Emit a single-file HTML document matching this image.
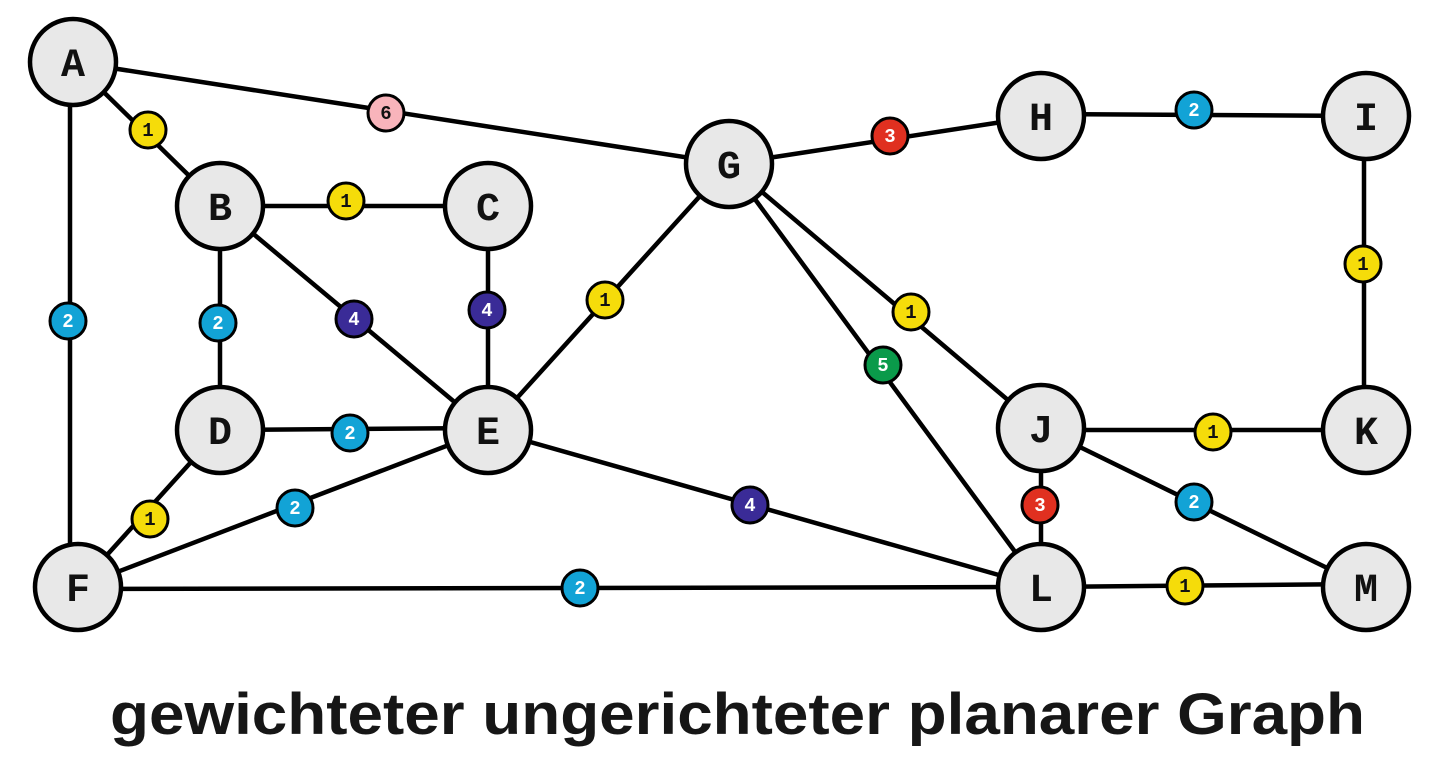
<!DOCTYPE html>
<html><head><meta charset="utf-8"><style>
html,body{margin:0;padding:0;background:#fff;}
svg{display:block;}
</style></head><body>
<svg width="1430" height="762" viewBox="0 0 1430 762" xmlns="http://www.w3.org/2000/svg">
<g stroke="#000" stroke-width="4.5" fill="none">
<line x1="73" y1="62" x2="729" y2="164"/>
<line x1="73" y1="62" x2="220" y2="206"/>
<line x1="70" y1="62" x2="70" y2="587"/>
<line x1="220" y1="206" x2="488" y2="206"/>
<line x1="220" y1="206" x2="220" y2="430"/>
<line x1="220" y1="206" x2="488" y2="430"/>
<line x1="488" y1="206" x2="488" y2="430"/>
<line x1="488" y1="430" x2="729" y2="164"/>
<line x1="220" y1="430" x2="488" y2="428"/>
<line x1="220" y1="430" x2="78" y2="587"/>
<line x1="78" y1="587" x2="488" y2="430"/>
<line x1="488" y1="430" x2="1041" y2="587"/>
<line x1="78" y1="589" x2="1041" y2="587"/>
<line x1="729" y1="164" x2="1041" y2="116"/>
<line x1="729" y1="164" x2="1041" y2="587"/>
<line x1="729" y1="164" x2="1041" y2="428"/>
<line x1="1041" y1="114" x2="1366" y2="116"/>
<line x1="1364" y1="116" x2="1364" y2="430"/>
<line x1="1041" y1="430" x2="1366" y2="430"/>
<line x1="1041" y1="428" x2="1041" y2="587"/>
<line x1="1041" y1="428" x2="1366" y2="587"/>
<line x1="1041" y1="587" x2="1366" y2="584"/>
</g>
<g stroke="#000" stroke-width="4.5" fill="#e8e8e8">
<circle cx="73" cy="62" r="43"/>
<circle cx="220" cy="206" r="43"/>
<circle cx="488" cy="206" r="43"/>
<circle cx="220" cy="430" r="43"/>
<circle cx="488" cy="430" r="43"/>
<circle cx="78" cy="587" r="43"/>
<circle cx="729" cy="164" r="43"/>
<circle cx="1041" cy="116" r="43"/>
<circle cx="1366" cy="116" r="43"/>
<circle cx="1041" cy="428" r="43"/>
<circle cx="1366" cy="430" r="43"/>
<circle cx="1041" cy="587" r="43"/>
<circle cx="1366" cy="587" r="43"/>
</g>
<g font-family="Liberation Mono, monospace" font-weight="bold" font-size="40" text-anchor="middle" fill="#111">
<text x="73" y="76">A</text><text x="220" y="220">B</text><text x="488" y="220">C</text>
<text x="220" y="444">D</text><text x="488" y="444">E</text><text x="78" y="601">F</text>
<text x="729" y="178">G</text><text x="1041" y="130">H</text><text x="1366" y="130">I</text>
<text x="1041" y="442">J</text><text x="1366" y="444">K</text><text x="1041" y="601">L</text>
<text x="1366" y="601">M</text>
</g>
<g stroke="#000" stroke-width="3">
<circle cx="386" cy="113" r="18" fill="#f8b4bb"/>
<circle cx="148" cy="130" r="18" fill="#f5dc0a"/>
<circle cx="68" cy="321" r="18" fill="#12a3d6"/>
<circle cx="346" cy="201" r="18" fill="#f5dc0a"/>
<circle cx="218" cy="323" r="18" fill="#12a3d6"/>
<circle cx="354" cy="319" r="18" fill="#3a2b97"/>
<circle cx="487" cy="310" r="18" fill="#3a2b97"/>
<circle cx="605" cy="300" r="18" fill="#f5dc0a"/>
<circle cx="350" cy="433" r="18" fill="#12a3d6"/>
<circle cx="150" cy="519" r="18" fill="#f5dc0a"/>
<circle cx="295" cy="508" r="18" fill="#12a3d6"/>
<circle cx="750" cy="505" r="18" fill="#3a2b97"/>
<circle cx="580" cy="588" r="18" fill="#12a3d6"/>
<circle cx="890" cy="136" r="18" fill="#e03020"/>
<circle cx="883" cy="365" r="18" fill="#0a9a4a"/>
<circle cx="911" cy="312" r="18" fill="#f5dc0a"/>
<circle cx="1194" cy="110" r="18" fill="#12a3d6"/>
<circle cx="1363" cy="264" r="18" fill="#f5dc0a"/>
<circle cx="1213" cy="432" r="18" fill="#f5dc0a"/>
<circle cx="1040" cy="505" r="18" fill="#e03020"/>
<circle cx="1194" cy="502" r="18" fill="#12a3d6"/>
<circle cx="1185" cy="586" r="18" fill="#f5dc0a"/>
</g>
<g font-family="Liberation Mono, monospace" font-weight="bold" font-size="19" text-anchor="middle">
<text x="386" y="119" fill="#111">6</text>
<text x="148" y="136" fill="#111">1</text>
<text x="68" y="327" fill="#fff">2</text>
<text x="346" y="207" fill="#111">1</text>
<text x="218" y="329" fill="#fff">2</text>
<text x="354" y="325" fill="#fff">4</text>
<text x="487" y="316" fill="#fff">4</text>
<text x="605" y="306" fill="#111">1</text>
<text x="350" y="439" fill="#fff">2</text>
<text x="150" y="525" fill="#111">1</text>
<text x="295" y="514" fill="#fff">2</text>
<text x="750" y="511" fill="#fff">4</text>
<text x="580" y="594" fill="#fff">2</text>
<text x="890" y="142" fill="#fff">3</text>
<text x="883" y="371" fill="#fff">5</text>
<text x="911" y="318" fill="#111">1</text>
<text x="1194" y="116" fill="#fff">2</text>
<text x="1363" y="270" fill="#111">1</text>
<text x="1213" y="438" fill="#111">1</text>
<text x="1040" y="511" fill="#fff">3</text>
<text x="1194" y="508" fill="#fff">2</text>
<text x="1185" y="592" fill="#111">1</text>
</g>
<text x="110" y="734" textLength="1255" lengthAdjust="spacingAndGlyphs" font-family="Liberation Sans, sans-serif" font-weight="bold" font-size="58" fill="#161616">gewichteter ungerichteter planarer Graph</text>
</svg>
</body></html>
